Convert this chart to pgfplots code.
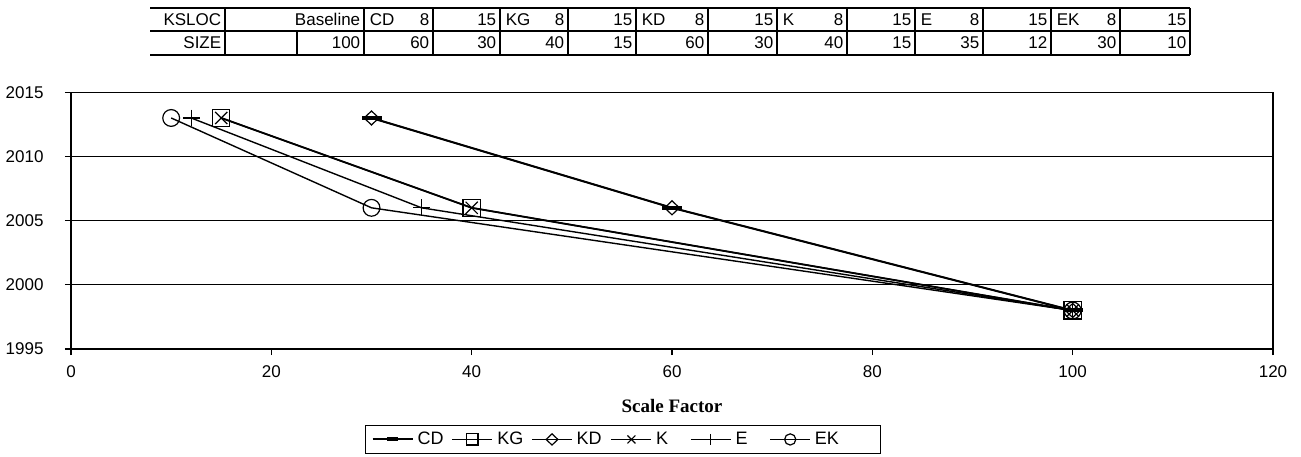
\documentclass[border=0pt]{standalone}
\usepackage{pgfplots}
\pgfplotsset{compat=1.18}
\usepackage{fontspec}
\setmainfont{Liberation Sans}
\newfontfamily\timesfont{Liberation Serif}
\begin{document}
\fontsize{8.5pt}{10pt}\selectfont
\begin{tikzpicture}[font=\fontsize{8.5pt}{10pt}\selectfont]
\useasboundingbox (0,0) rectangle (650.5pt,228pt);
% data table (pixel coordinates, y from top)
\begin{scope}[x=0.5pt,y=-0.5pt,yshift=228pt,line width=0.8pt]
\foreach \yy in {8,31,55} \draw (150,\yy) -- (1190,\yy);
\foreach \xx in {225,364,433,500,568,636,708,777,847,915,983,1051,1120,1190} \draw (\xx,8) -- (\xx,55);
\draw (297,31) -- (297,55);
\tikzset{R/.style={anchor=east,inner sep=0pt},L/.style={anchor=west,inner sep=0pt}}
\def\ra{19.5}\def\rb{43}
\node[R] at (222,\ra) {KSLOC};
\node[R] at (361,\ra) {Baseline};
\node[L] at (369,\ra) {CD}; \node[R] at (430,\ra) {8}; \node[R] at (497,\ra) {15};
\node[L] at (505,\ra) {KG}; \node[R] at (565,\ra) {8}; \node[R] at (633,\ra) {15};
\node[L] at (641,\ra) {KD}; \node[R] at (705,\ra) {8}; \node[R] at (774,\ra) {15};
\node[L] at (782,\ra) {K}; \node[R] at (844,\ra) {8}; \node[R] at (912,\ra) {15};
\node[L] at (920,\ra) {E}; \node[R] at (980,\ra) {8}; \node[R] at (1048,\ra) {15};
\node[L] at (1056,\ra) {EK}; \node[R] at (1117,\ra) {8}; \node[R] at (1187,\ra) {15};
\node[R] at (222,\rb) {SIZE};
\node[R] at (361,\rb) {100};
\node[R] at (430,\rb) {60}; \node[R] at (497,\rb) {30};
\node[R] at (565,\rb) {40}; \node[R] at (633,\rb) {15};
\node[R] at (705,\rb) {60}; \node[R] at (774,\rb) {30};
\node[R] at (844,\rb) {40}; \node[R] at (912,\rb) {15};
\node[R] at (980,\rb) {35}; \node[R] at (1048,\rb) {12};
\node[R] at (1117,\rb) {30}; \node[R] at (1187,\rb) {10};
\end{scope}
\begin{axis}[
  at={(35.5pt,53.5pt)}, anchor=south west,
  scale only axis, width=601pt, height=128.35pt,
  xmin=0, xmax=120, ymin=1995, ymax=2015,
  xtick={0,20,...,120}, ytick={1995,2000,...,2015},
  /pgf/number format/assume math mode=true,
  /pgf/number format/1000 sep={},
  tick pos=left, tick align=outside, major tick length=3pt,
  tick style={black, line width=0.6pt},
  axis line style={black, line width=0.8pt},
  ymajorgrids, grid style={black, line width=0.5pt},
  xticklabel style={yshift=-2.5pt},
  yticklabel style={xshift=-7.7pt},
  xlabel={\timesfont\bfseries\fontsize{9.5pt}{11pt}\selectfont Scale Factor},
  xlabel style={at={(axis description cs:0.5,-0.222)}, anchor=center},
  legend columns=6,
  legend style={at={(axis description cs:0.2446,-0.296)}, anchor=north west,
    draw=black, line width=0.5pt, inner xsep=3pt, inner ysep=1.2pt,
    font=\fontsize{9pt}{10pt}\selectfont,
    /tikz/every even column/.append style={column sep=0pt}},
  legend image code/.code={\draw[mark repeat=2,mark phase=2] plot coordinates {(0pt,0pt)(10pt,0pt)(20pt,0pt)};},
  legend image post style={mark size=2.8pt},
]
\addplot[black, line width=1pt, mark=-, mark size=5pt, mark options={line width=2pt}] coordinates {(100,1998)(60,2006)(30,2013)};
\addlegendentry{\makebox[15pt][l]{CD}}
\addplot[black, line width=0.9pt, mark=square, mark size=4.3pt, mark options={line width=0.6pt}] coordinates {(100,1998)(40,2006)(15,2013)};
\addlegendentry{\makebox[15pt][l]{KG}}
\addplot[black, line width=0.7pt, mark=diamond, mark size=3.5pt, mark options={line width=0.6pt, xscale=1.4}] coordinates {(100,1998)(60,2006)(30,2013)};
\addlegendentry{\makebox[15pt][l]{KD}}
\addplot[black, line width=0.7pt, mark=x, mark size=4.3pt, mark options={line width=0.6pt}] coordinates {(100,1998)(40,2006)(15,2013)};
\addlegendentry{\makebox[15pt][l]{K}}
\addplot[black, line width=0.7pt, mark=+, mark size=4.2pt, mark options={line width=0.6pt}] coordinates {(100,1998)(35,2006)(12,2013)};
\addlegendentry{\makebox[15pt][l]{E}}
\addplot[black, line width=0.7pt, mark=o, mark size=4.2pt, mark options={line width=0.6pt}] coordinates {(100,1998)(30,2006)(10,2013)};
\addlegendentry{\makebox[28pt][l]{EK}}
\end{axis}
\end{tikzpicture}
\end{document}
